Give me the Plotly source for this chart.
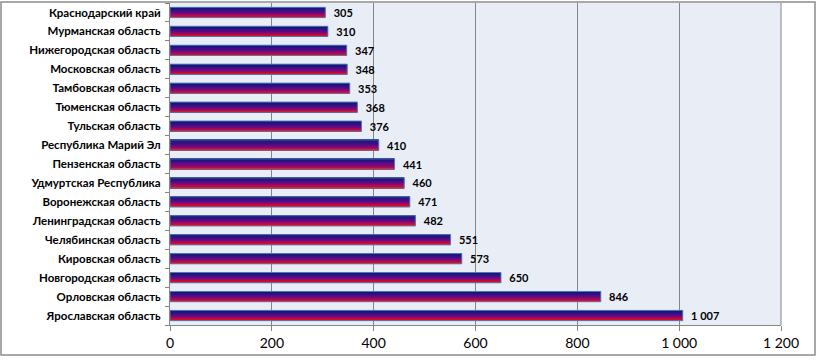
import plotly.graph_objects as go

regions = ["Краснодарский край", "Мурманская область", "Нижегородская область",
           "Московская область", "Тамбовская область", "Тюменская область",
           "Тульская область", "Республика Марий Эл", "Пензенская область",
           "Удмуртская Республика", "Воронежская область", "Ленинградская область",
           "Челябинская область", "Кировская область", "Новгородская область",
           "Орловская область", "Ярославская область"]
values = [305, 310, 347, 348, 353, 368, 376, 410, 441, 460, 471, 482, 551, 573, 650, 846, 1007]
x_ticks = [0, 200, 400, 600, 800, 1000, 1200]

# bottom-to-top order for the category axis
cats = regions[::-1]
vals = values[::-1]

FONT = "Lato, 'Open Sans', 'DejaVu Sans', sans-serif"
BAR_W = 0.54
N = 10

def lerp(c1, c2, t):
    return tuple(round(a + (b - a) * t) for a, b in zip(c1, c2))

navy = (25, 20, 120)
purple = (100, 10, 140)
red = (255, 10, 10)

fig = go.Figure()
for i in range(N):
    t = i / (N - 1)  # 0 bottom -> 1 top
    if t < 0.5:
        c = lerp(red, purple, t / 0.5)
    else:
        c = lerp(purple, navy, (t - 0.5) / 0.5)
    w = BAR_W / N
    fig.add_trace(go.Bar(
        y=cats, x=vals, orientation="h",
        width=w, offset=-BAR_W / 2 + i * w,
        marker=dict(color="rgb(%d,%d,%d)" % c, line=dict(width=0)),
        showlegend=False, hoverinfo="skip",
    ))

fig.add_trace(go.Bar(
    y=cats, x=vals, orientation="h",
    width=BAR_W, offset=-BAR_W / 2,
    marker=dict(color="rgba(0,0,0,0)", line=dict(color="#4A7EBB", width=1)),
    text=vals, texttemplate="  %{x:,.0f}", textposition="outside",
    constraintext="none",
    textfont=dict(family=FONT, size=11, color="black", weight="bold"),
    cliponaxis=False, showlegend=False,
))

L, R, T, B = 170, 38, 3, 35
W, H = 819, 360
pw, ph = W - L - R, H - T - B
x0 = (1 - L) / pw
x1 = (815 - L) / pw
y1 = (H - B - 2) / ph
y0 = (H - B - 355) / ph

fig.update_layout(
    width=W, height=H,
    margin=dict(l=L, r=R, t=T, b=B),
    barmode="overlay",
    separators=", ",
    paper_bgcolor="white",
    plot_bgcolor="#E9EDF6",
    font=dict(family=FONT, color="black"),
    xaxis=dict(range=[0, 1200], tickvals=x_ticks, tickformat=",.0f",
               showgrid=True, gridcolor="#868686", gridwidth=1,
               showline=True, linecolor="#868686", linewidth=1,
               ticks="outside", ticklen=5, tickcolor="#868686",
               tickfont=dict(size=14, family=FONT), zeroline=False,
               automargin=False),
    yaxis=dict(type="category", categoryorder="array", categoryarray=cats,
               showline=True, linecolor="#868686", linewidth=1,
               ticks="outside", ticklen=4, tickcolor="#868686",
               tickson="boundaries", ticklabelstandoff=6,
               tickfont=dict(size=11.5, family=FONT, weight="bold"),
               showgrid=False, zeroline=False, automargin=False),
    shapes=[
        dict(type="line", xref="paper", yref="paper", x0=1, x1=1, y0=0, y1=1,
             line=dict(color="#868686", width=1)),
        dict(type="rect", xref="paper", yref="paper", x0=x0, x1=x1, y0=y0, y1=y1,
             line=dict(color="#8C8C8C", width=1.5), fillcolor="rgba(0,0,0,0)"),
    ],
)

fig.write_html("out.html", config={"displayModeBar": False},
               post_script="document.body.style.margin='0';")
